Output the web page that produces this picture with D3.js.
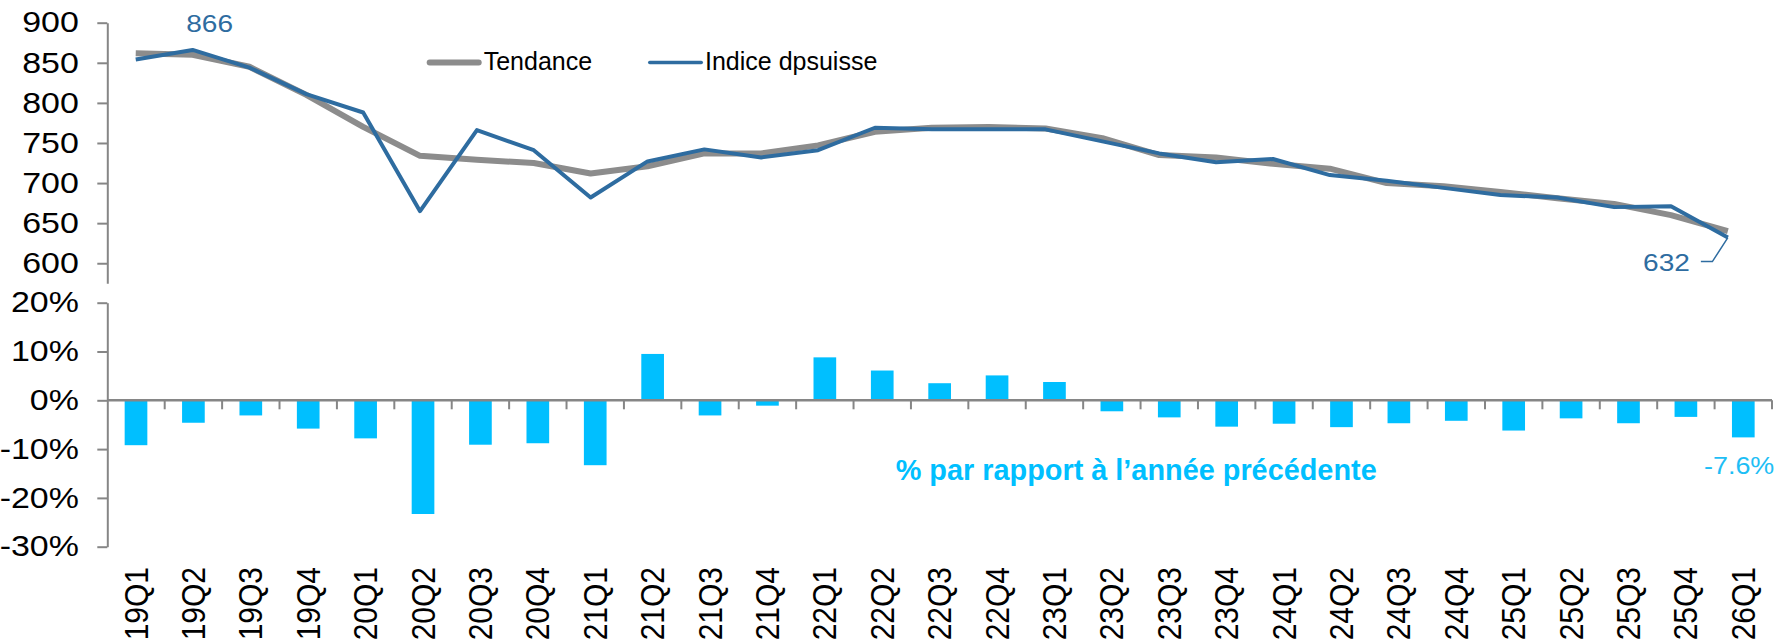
<!DOCTYPE html>
<html>
<head>
<meta charset="utf-8">
<script src="https://cdn.jsdelivr.net/npm/d3@7"></script>
<style>
  body { margin: 0; background: #fff; }
  svg { display: block; font-family: "Liberation Sans", Arial, sans-serif; }
</style>
</head>
<body>
<div id="chart"></div>
<script>
// quarters on the x axis
const categories = ['19Q1','19Q2','19Q3','19Q4','20Q1','20Q2','20Q3','20Q4',
  '21Q1','21Q2','21Q3','21Q4','22Q1','22Q2','22Q3','22Q4',
  '23Q1','23Q2','23Q3','23Q4','24Q1','24Q2','24Q3','24Q4',
  '25Q1','25Q2','25Q3','25Q4','26Q1'];

// Indice dpsuisse (blue line)
const indice = [854, 866, 844, 811, 788, 665, 766, 741, 682, 727, 742, 732, 741, 769, 767,
  767, 767, 752, 737, 726, 730, 710, 703, 694, 685, 682, 670, 671, 632];

// Tendance (grey line)
const tendance = [862, 860, 845, 810, 770, 734, 729, 725, 712, 721, 737, 737, 747, 764, 769,
  770, 768, 756, 735, 732, 724, 718, 700, 696, 689, 681, 674, 660, 640];

// % par rapport a l'annee precedente (bars)
const yoy = [-9.2, -4.6, -3.1, -5.8, -7.8, -23.3, -9.1, -8.8, -13.3, 9.5, -3.1, -1.1, 8.8, 6.1, 3.5,
  5.1, 3.75, -2.25, -3.5, -5.4, -4.8, -5.5, -4.7, -4.2, -6.2, -3.7, -4.7, -3.4, -7.6];

const indexTicks = [600, 650, 700, 750, 800, 850, 900];
const pctTicks = [-30, -20, -10, 0, 10, 20];

const W = 1779, H = 644;
const blue = '#2e6ca0', grey = '#8c8c8c', barColor = '#00bfff', axisColor = '#868686';
const stretch = 1.17; // tick labels look horizontally stretched in the original

const svg = d3.select('#chart').append('svg')
    .attr('width', W).attr('height', H);

// scales
const xTop = d3.scaleBand().domain(categories).range([107.3, 1756.3]);
const xBot = d3.scaleBand().domain(categories).range([107.3, 1772])
    .paddingInner(0.605).paddingOuter(0.3025);
const yTop = d3.scaleLinear().domain([575, 900]).range([283.3, 22.7]);
const yBot = d3.scaleLinear().domain([-30, 20]).range([546.7, 302.7]);

function styleAxis(g) {
    g.select('.domain').attr('stroke', axisColor).attr('stroke-width', 2);
    g.selectAll('.tick line').attr('stroke', axisColor).attr('stroke-width', 2);
    g.selectAll('.tick text')
        .attr('font-size', 29).attr('fill', '#000')
        .attr('x', -28.5 / stretch)
        .attr('transform', `scale(${stretch},1)`);
}

// upper y axis
svg.append('g').attr('transform', 'translate(107.3,0)')
    .call(d3.axisLeft(yTop).tickValues(indexTicks).tickSize(10).tickSizeOuter(0))
    .call(styleAxis);

// lower y axis
svg.append('g').attr('transform', 'translate(107.3,0)')
    .call(d3.axisLeft(yBot).tickValues(pctTicks).tickFormat(d => d + '%').tickSize(10).tickSizeOuter(0))
    .call(styleAxis);

// bars
svg.append('g').selectAll('rect').data(yoy).enter().append('rect')
    .attr('x', (d, i) => xBot(categories[i]))
    .attr('y', d => yBot(Math.max(0, d)))
    .attr('width', xBot.bandwidth())
    .attr('height', d => Math.abs(yBot(d) - yBot(0)))
    .attr('fill', barColor);

// zero line and category ticks
const x0 = xBot.range()[0];
svg.append('line')
    .attr('x1', x0).attr('x2', xBot.range()[1])
    .attr('y1', yBot(0)).attr('y2', yBot(0))
    .attr('stroke', axisColor).attr('stroke-width', 2.5);
svg.append('g').selectAll('line').data(d3.range(1, categories.length + 1)).enter().append('line')
    .attr('x1', k => x0 + k * xBot.step()).attr('x2', k => x0 + k * xBot.step())
    .attr('y1', yBot(0)).attr('y2', yBot(0) + 9)
    .attr('stroke', axisColor).attr('stroke-width', 2);

// rotated category labels
svg.append('g').selectAll('text').data(categories).enter().append('text')
    .attr('transform', d => `translate(${xBot(d) + xBot.bandwidth() / 2},567) scale(1.1,1) rotate(-90)`)
    .attr('text-anchor', 'end')
    .attr('dy', '0.35em')
    .attr('font-size', 30)
    .text(d => d);

// lines
const cx = i => xTop(categories[i]) + xTop.bandwidth() / 2;
const line = d3.line().x((d, i) => cx(i)).y(d => yTop(d));

svg.append('path').datum(tendance)
    .attr('d', line).attr('fill', 'none')
    .attr('stroke', grey).attr('stroke-width', 6).attr('stroke-linejoin', 'round');
svg.append('path').datum(indice)
    .attr('d', line).attr('fill', 'none')
    .attr('stroke', blue).attr('stroke-width', 4).attr('stroke-linejoin', 'round');

// data labels
const first = 1, last = indice.length - 1;
svg.append('text')
    .attr('transform', `translate(${cx(first) + 17},${yTop(indice[first]) - 18}) scale(${stretch},1)`)
    .attr('text-anchor', 'middle').attr('font-size', 24).attr('fill', blue)
    .text(indice[first]);

svg.append('polyline')
    .attr('points', [[cx(last), yTop(indice[last])],
                     [cx(last) - 15.5, yTop(indice[last]) + 24],
                     [cx(last) - 27, yTop(indice[last]) + 24]].join(' '))
    .attr('fill', 'none').attr('stroke', blue).attr('stroke-width', 1.5);
svg.append('text')
    .attr('transform', `translate(${cx(last) - 38},${yTop(indice[last]) + 33}) scale(${stretch},1)`)
    .attr('text-anchor', 'end').attr('font-size', 24).attr('fill', blue)
    .text(indice[last]);

const lastCat = categories[categories.length - 1];
svg.append('text')
    .attr('transform', `translate(${xBot(lastCat) + xBot.bandwidth() / 2 + 31},${yBot(yoy[yoy.length - 1]) + 37}) scale(${stretch},1)`)
    .attr('text-anchor', 'end').attr('font-size', 23).attr('fill', '#1ebef5')
    .text(yoy[yoy.length - 1].toFixed(1) + '%');

// series note
svg.append('text')
    .attr('x', 895.7).attr('y', 479.5)
    .attr('font-size', 30).attr('font-weight', 'bold').attr('fill', barColor)
    .attr('textLength', 481).attr('lengthAdjust', 'spacingAndGlyphs')
    .text('% par rapport à l’année précédente');

// legend
const legend = [
    {name: 'Tendance', color: grey, width: 6, x: 426.7},
    {name: 'Indice dpsuisse', color: blue, width: 3.5, x: 648}
];
const lg = svg.append('g').selectAll('g').data(legend).enter().append('g')
    .attr('transform', d => `translate(${d.x},62.5)`);
lg.append('line')
    .attr('x1', d => d.width / 2).attr('x2', d => 55 - d.width / 2)
    .attr('stroke', d => d.color).attr('stroke-width', d => d.width)
    .attr('stroke-linecap', 'round');
lg.append('text')
    .attr('x', 57).attr('y', 7.5)
    .attr('font-size', 25).attr('fill', '#000')
    .text(d => d.name);
</script>
</body>
</html>
